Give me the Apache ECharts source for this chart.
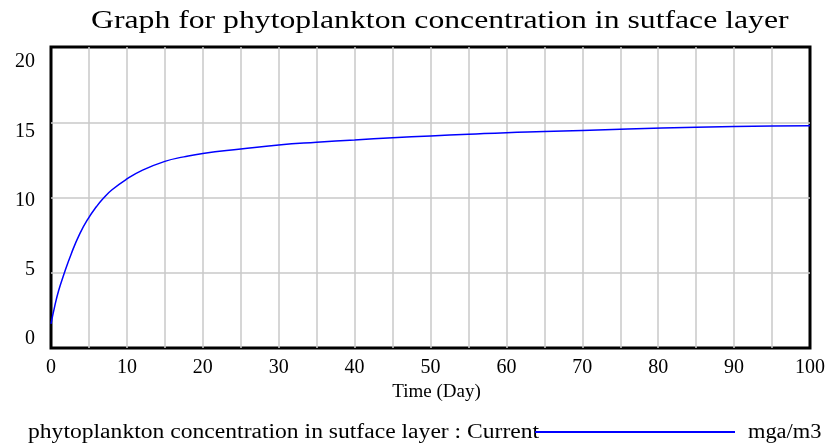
<!DOCTYPE html>
<html>
<head>
<meta charset="utf-8">
<script src="https://cdn.jsdelivr.net/npm/echarts@6/dist/echarts.min.js"></script>
<style>
  html, body { margin: 0; padding: 0; background: #fff; }
  #e_container { width: 830px; height: 445px; }
</style>
</head>
<body>
<div id="e_container"></div>
<script>
// 数据：时间（天）和浓度
var times = [0, 0.5, 1, 1.6, 2.7, 3.8, 4.9, 6, 6.9, 8, 9.9, 12, 15, 17.5, 20, 25, 30, 35, 40, 45, 50, 55, 60, 65, 70, 76, 85, 95, 100];
var values = [1.6, 2.8, 3.8, 4.75, 6.3, 7.6, 8.6, 9.4, 9.95, 10.5, 11.2, 11.8, 12.4, 12.7, 12.93, 13.22, 13.49, 13.67, 13.82, 13.97, 14.09, 14.2, 14.31, 14.38, 14.46, 14.55, 14.66, 14.75, 14.77];
var yTicks = [0, 5, 10, 15, 20];
var xLabelStep = 10;
var titleText = 'Graph for phytoplankton concentration in sutface layer';
var seriesName = 'phytoplankton concentration in sutface layer : Current';
var unitText = 'mga/m3';

var points = [];
for (var i = 0; i < times.length; i++) {
    points.push([times[i], values[i]]);
}

var serif = '"Liberation Serif", "Times New Roman", serif';
var dom = document.getElementById("e_container");
var myChart = echarts.init(dom);

option = {
    animation: false,
    // 原图文字横向拉宽，用 scaleX 模拟
    graphic: [{
        type: 'text',
        x: 91, y: 21, scaleX: 1.22,
        style: { text: titleText, font: '26px ' + serif, fill: '#000', verticalAlign: 'middle', align: 'left' }
    }, {
        type: 'text',
        x: 28, y: 433, scaleX: 1.18,
        style: { text: seriesName, font: '20px ' + serif, fill: '#000', verticalAlign: 'middle', align: 'left' }
    }, {
        type: 'text',
        x: 748, y: 433, scaleX: 1.12,
        style: { text: unitText, font: '20px ' + serif, fill: '#000', verticalAlign: 'middle', align: 'left' }
    }],
    legend: {
        left: 530,
        top: 426,
        icon: 'rect',
        itemWidth: 200,
        itemHeight: 2,
        itemGap: 0,
        data: [seriesName],
        formatter: function () { return ''; },
        textStyle: { fontSize: 12, lineHeight: 12 }
    },
    grid: [{
        left: 51, right: 20, top: 47, bottom: 97,
        show: true, borderColor: '#000', borderWidth: 3, backgroundColor: '#fff'
    }, {
        // 只用来放纵轴刻度文字
        left: 51, right: 20, top: 62, bottom: 106
    }],
    xAxis: [{
        type: 'value',
        gridIndex: 0,
        min: 0, max: 100, interval: 5,
        name: 'Time (Day)',
        nameLocation: 'middle',
        nameGap: 20,
        nameTextStyle: { fontFamily: serif, fontSize: 19, color: '#000', padding: [0, 0, 0, 12] },
        axisLine: { show: false },
        axisTick: { show: false },
        axisLabel: {
            fontFamily: serif, fontSize: 20, color: '#000', margin: 10,
            formatter: function (v) { return v % xLabelStep === 0 ? String(v) : ''; }
        },
        splitLine: { show: true, showMinLine: false, showMaxLine: false, lineStyle: { color: '#c8c8c8', width: 1.5 } }
    }, {
        type: 'value',
        gridIndex: 1,
        min: 0, max: 100,
        show: false
    }],
    yAxis: [{
        type: 'value',
        gridIndex: 0,
        min: 0, max: 20, interval: 5,
        axisLine: { show: false },
        axisTick: { show: false },
        axisLabel: { show: false },
        splitLine: { show: true, showMinLine: false, showMaxLine: false, lineStyle: { color: '#c8c8c8', width: 1.5 } }
    }, {
        type: 'value',
        gridIndex: 1,
        min: yTicks[0], max: yTicks[yTicks.length - 1], interval: 5,
        axisLine: { show: false },
        axisTick: { show: false },
        splitLine: { show: false },
        axisLabel: { fontFamily: serif, fontSize: 20, color: '#000', margin: 16 }
    }],
    series: [{
        name: seriesName,
        type: 'line',
        xAxisIndex: 0,
        yAxisIndex: 0,
        data: points,
        smooth: 0.5,
        showSymbol: false,
        itemStyle: { color: '#0000ff' },
        lineStyle: { color: '#0000ff', width: 1.5 }
    }]
};

if (option && typeof option === "object") {
    myChart.setOption(option, true);
}
</script>
</body>
</html>
